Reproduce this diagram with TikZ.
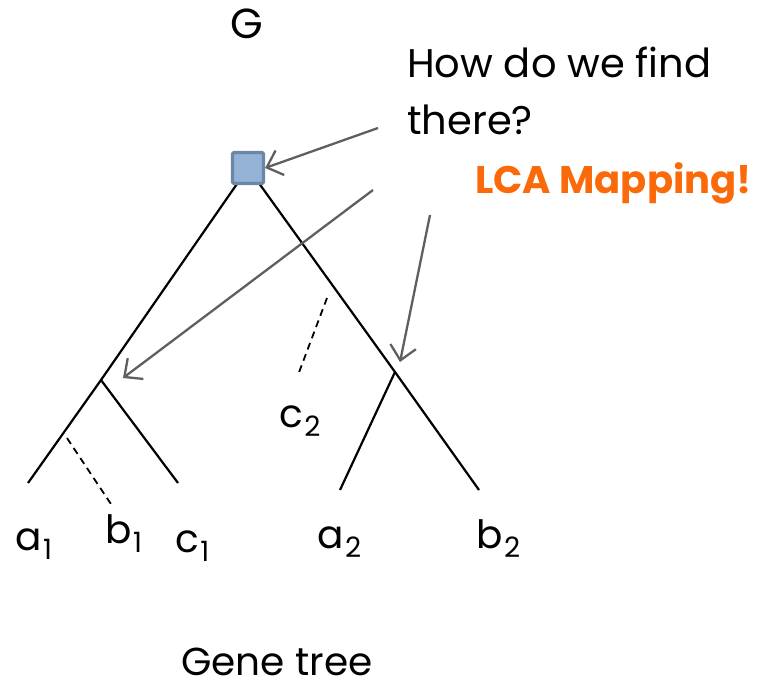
\documentclass[tikz,border=0pt]{standalone}
\usepackage{fontspec}
\setmainfont{Poppins}
\usetikzlibrary{arrows.meta}
\definecolor{sqfill}{HTML}{95B3D7}
\definecolor{sqdraw}{HTML}{6A87A3}
\definecolor{arrgray}{HTML}{5F5F5F}
\definecolor{lcaorange}{HTML}{FA6A0A}
\newcommand\lbsub[1]{\kern1.5pt\raisebox{-9pt}{\fontsize{28}{28}\selectfont #1}}
\tikzset{
  treeline/.style={line width=2.2pt, black},
  dashline/.style={line width=1.8pt, black, dash pattern=on 7pt off 5pt},
  pointer/.style={line width=2.3pt, arrgray, -{Straight Barb[length=14pt,width=26pt,line width=2.3pt]}},
  lbl/.style={inner sep=0pt, anchor=base west, font=\fontsize{39}{40}\selectfont},
  big/.style={inner sep=0pt, anchor=base west, font=\fontsize{40}{44}\selectfont},
  sq/.style={draw=sqdraw, fill=sqfill, line width=3.2pt, minimum size=31pt, inner sep=0pt, rounded corners=1.5pt}
}
\begin{document}
\begin{tikzpicture}[x=1pt,y=-1pt]
\useasboundingbox (0,0) rectangle (757,690);
% tree coordinates
\coordinate (rc) at (248,168);
\coordinate (n1) at (101,380);
\coordinate (n2) at (395,372);
\coordinate (la1) at (28,483);
\coordinate (lc1) at (178,483);
\coordinate (la2) at (340,490);
\coordinate (lb2) at (479,490);
\coordinate (d1s) at (67,438);
\coordinate (d1e) at (113,507);
\coordinate (d2s) at (327,298);
\coordinate (d2e) at (298,375);
% tree lines
\draw[treeline] (rc) -- (n1) -- (la1);
\draw[treeline] (n1) -- (lc1);
\draw[treeline] (rc) -- (n2) -- (lb2);
\draw[treeline] (n2) -- (la2);
\draw[dashline] (d1s) -- (d1e);
\draw[dashline] (d2s) -- (d2e);
% root square
\node[sq] (root) at (rc) {};
% labels
\node[lbl] (ta1) at (15,550) {a\lbsub{1}};
\node[lbl] (tb1) at (105,543) {b\lbsub{1}};
\node[lbl] (tc1) at (175,552) {c\lbsub{1}};
\node[lbl] (ta2) at (317,548) {a\lbsub{2}};
\node[lbl] (tb2) at (476,548) {b\lbsub{2}};
\node[lbl] (tc2) at (279,427) {c\lbsub{2}};
\node[lbl, anchor=base, font=\fontsize{42}{44}\selectfont] (tG) at (247,39) {G};
\node[lbl, anchor=base, font=\fontsize{39}{42}\selectfont] (tgene) at (277,675) {Gene tree};
\node[big] (q1) at (407,78) {How do we find};
\node[big] (q2) at (407,135) {there?};
\node[big, text=lcaorange, font=\fontsize{38.5}{42}\selectfont\bfseries] (lca) at (475,193) {LCA Mapping!};
% arrows
\coordinate (s1) at (378,128);
\coordinate (s2) at (373,190);
\coordinate (s3) at (430,215);
\coordinate (e2) at (123,378);
\coordinate (e3) at (400,362);
\draw[pointer] (s1) -- (root.east);
\draw[pointer] (s2) -- (e2);
\draw[pointer] (s3) -- (e3);
\end{tikzpicture}
\end{document}
